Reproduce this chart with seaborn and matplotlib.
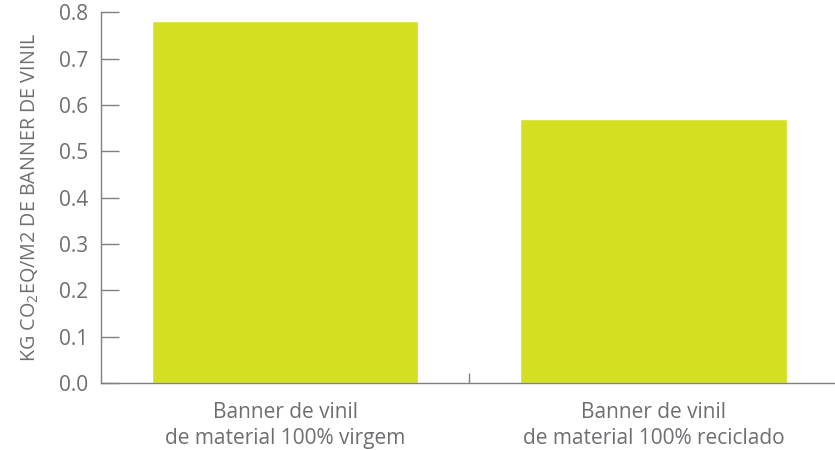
import matplotlib
matplotlib.use("Agg")
import matplotlib.pyplot as plt
import pandas as pd
import seaborn as sns

categories = ["Banner de vinil\nde material 100% virgem",
              "Banner de vinil\nde material 100% reciclado"]
values = [0.78, 0.57]
y_ticks = [0.0, 0.1, 0.2, 0.3, 0.4, 0.5, 0.6, 0.7, 0.8]

sns.set_style("white")
plt.rcParams["font.family"] = ["Open Sans", "DejaVu Sans"]
plt.rcParams["mathtext.fontset"] = "custom"
plt.rcParams["mathtext.rm"] = "Open Sans"
plt.rcParams["mathtext.it"] = "Open Sans"

text_color = "#6d6e71"
axis_color = "#808080"

df = pd.DataFrame({"cat": categories, "val": values})

fig = plt.figure(figsize=(8.35, 4.5), dpi=100)
ax = fig.add_axes([0.121, 0.149, 0.878, 0.824])
sns.barplot(data=df, x="cat", y="val", color="#d5df22", saturation=1,
            width=0.723, ax=ax)

ax.set_ylim(0, 0.8)
ax.set_xlim(-0.5, 1.49)
ax.set_yticks(y_ticks)
ax.set_yticklabels([f"{t:.1f}" for t in y_ticks], color=text_color, fontsize=15)
ax.tick_params(axis="y", left=True, direction="in", length=13, width=1,
               color=axis_color, pad=9)

ax.set_xticks([0, 1])
ax.set_xticklabels(categories, color=text_color, fontsize=15, linespacing=1.3)
ax.tick_params(axis="x", length=0, pad=14)
ax.set_xticks([0.5], minor=True)
ax.tick_params(axis="x", which="minor", bottom=True, direction="in", length=7,
               width=1, color=axis_color)

ax.set_xlabel("")
ax.set_ylabel(r"KG CO$_2$EQ/M2 DE BANNER DE VINIL", color=text_color,
              fontsize=14.2, labelpad=13)

for s in ["top", "right"]:
    ax.spines[s].set_visible(False)
for s in ["left", "bottom"]:
    ax.spines[s].set_color(axis_color)
    ax.spines[s].set_linewidth(1)

fig.savefig("out.png", dpi=100)
